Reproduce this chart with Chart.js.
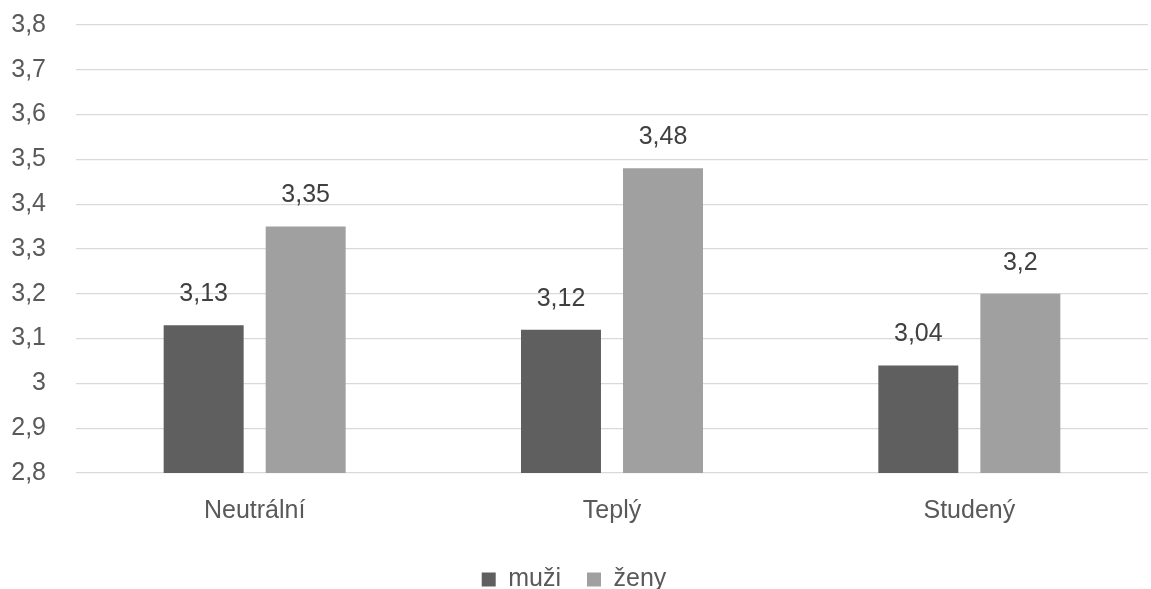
<!DOCTYPE html>
<html><head><meta charset="utf-8">
<script src="https://cdn.jsdelivr.net/npm/chart.js@4/dist/chart.umd.min.js"></script>
<style>html,body{margin:0;padding:0;background:#fff}#wrap{width:1151px;height:589px}</style>
</head><body><div id="wrap"><canvas id="c"></canvas></div>
<script>
const categories = ["Neutrální", "Teplý", "Studený"];
const muzi = [3.13, 3.12, 3.04];
const zeny = [3.35, 3.48, 3.2];
const seriesNames = ["muži", "ženy"];
const yMin = 2.8, yMax = 3.8, yStep = 0.1;

const fmt = v => String(Math.round(v*100)/100).replace('.', ',');
const FONT = "'Liberation Sans', Arial, sans-serif";

const labelPlugin = {
  id: 'barLabels',
  afterDatasetsDraw(chart) {
    const ctx = chart.ctx;
    ctx.save();
    ctx.font = "25px " + FONT;
    ctx.fillStyle = "#404040";
    ctx.textAlign = "center";
    ctx.textBaseline = "middle";
    chart.data.datasets.forEach((ds, i) => {
      chart.getDatasetMeta(i).data.forEach((bar, j) => {
        ctx.fillText(fmt(ds.data[j]), bar.x, bar.y - 31);
      });
    });
    ctx.restore();
  }
};

new Chart(document.getElementById('c'), {
  type: 'bar',
  data: {
    labels: categories,
    datasets: [
      { label: seriesNames[0], data: muzi, backgroundColor: '#5f5f5f', categoryPercentage: 0.571, barPercentage: 0.784 },
      { label: seriesNames[1], data: zeny, backgroundColor: '#a0a0a0', categoryPercentage: 0.571, barPercentage: 0.784 }
    ]
  },
  options: {
    responsive: true, maintainAspectRatio: false, animation: false,
    layout: { padding: { top: 25, right: 3, left: 0, bottom: -13 } },
    plugins: {
      legend: {
        position: 'bottom',
        labels: { boxWidth: 14, boxHeight: 14, padding: 26, color: '#595959', font: { family: FONT, size: 25 } }
      },
      tooltip: { enabled: false }
    },
    scales: {
      x: {
        grid: { display: false }, border: { display: false },
        ticks: { color: '#595959', font: { family: FONT, size: 25 }, padding: 15 }
      },
      y: {
        min: yMin, max: yMax,
        grid: { color: '#d9d9d9', lineWidth: 1.3, drawTicks: false },
        border: { display: false },
        ticks: { stepSize: yStep, color: '#595959', font: { family: FONT, size: 25 }, padding: 30,
          callback: v => fmt(v) },
        afterFit: s => { s.width = 76; s.paddingTop = 14; s.paddingBottom = 14; }
      }
    }
  },
  plugins: [labelPlugin]
});
</script></body></html>
